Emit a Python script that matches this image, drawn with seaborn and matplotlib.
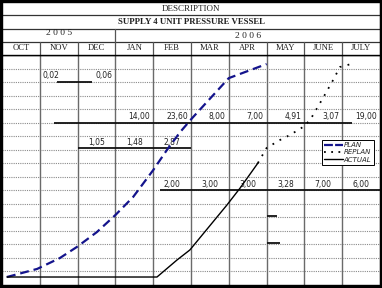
import numpy as np
import pandas as pd
import matplotlib
matplotlib.use('Agg')
import matplotlib.pyplot as plt
from matplotlib.lines import Line2D
from matplotlib.patches import Rectangle
import seaborn as sns

sns.set_theme(style='white')
plt.rcParams['font.family'] = ['DejaVu Sans']

months = ['OCT', 'NOV', 'DEC', 'JAN', 'FEB', 'MAR', 'APR', 'MAY', 'JUNE', 'JULY']
years = ['2 0 0 5', '2 0 0 6']
year_start = [0, 3]
year_end = [3, 10]
title_top = 'DESCRIPTION'
title_sub = 'SUPPLY 4 UNIT PRESSURE VESSEL'

# cumulative progress curves (x in months from start of OCT, y in %)
plan_x = [0.13, 0.93, 1.53, 1.98, 2.51, 3.0, 3.47, 4.0, 4.36, 4.71, 5.03, 6.0, 7.0]
plan_y = [0, 3.8, 8.9, 14.1, 21.1, 29.1, 37.6, 50.2, 59.6, 68.0, 74.6, 93.4, 100]
actual_x = [0.13, 4.1, 4.63, 4.97, 5.95, 6.3, 6.77]
actual_y = [0, 0, 8.0, 12.7, 33.8, 41.8, 53.5]
replan_x = [6.77, 7.0, 7.35, 7.62, 7.96, 8.15, 8.49, 8.76, 8.94, 9.34]
replan_y = [53.5, 60.6, 64.3, 66.7, 70.4, 73.7, 84.0, 92.5, 98.6, 100.5]

# table rows written over the grid
row_a_labels = ['0,02', '0,06']
row_a_cols = [1, 2]
row_b_labels = ['14,00', '23,60', '8,00', '7,00', '4,91', '3,07', '19,00']
row_b_cols = [3, 4, 5, 6, 7, 8, 9]
row_c_labels = ['1,05', '1,48', '2,87']
row_c_cols = [2, 3, 4]
row_d_labels = ['2,00', '3,00', '3,00', '3,28', '7,00', '6,00']
row_d_cols = [4, 5, 6, 7, 8, 9]

# underline segments: (row, x start, x end)
seg_row = [15.0, 12.0, 10.1, 7.0, 5.1, 3.1]
seg_x0 = [1.46, 1.38, 2.0, 4.18, 7.0, 7.0]
seg_x1 = [2.38, 9.26, 5.0, 10.0, 7.27, 7.35]

W, H = 382, 288
fig = plt.figure(figsize=(W / 100, H / 100), dpi=100)
fig.patch.set_facecolor('white')

# grid area
ax = fig.add_axes([2 / W, 3 / H, 378 / W, 230 / H])
ax.set_xlim(0, 10)
ax.set_ylim(0, 17)
ax.set_xticks([])
ax.set_yticks([])
for s in ax.spines.values():
    s.set_color('black')
    s.set_linewidth(1.0)
for r in range(1, 17):
    ax.axhline(r, color='#8a8a8a', lw=0.8, ls=(0, (1, 1)), zorder=1)
for c in range(1, 10):
    ax.axvline(c, color='#6a6a6a', lw=1.0, zorder=1)

numfont = dict(fontsize=5.5, color='#222222', family='DejaVu Sans')
for lab, c in zip(row_a_labels, row_a_cols):
    if c == 1:
        ax.text(c + 0.06, 15.5, lab, ha='left', va='center', **numfont)
    else:
        ax.text(c + 0.92, 15.5, lab, ha='right', va='center', **numfont)
for lab, c in zip(row_b_labels, row_b_cols):
    ax.text(c + 0.92, 12.45, lab, ha='right', va='center', **numfont)
for lab, c in zip(row_c_labels, row_c_cols):
    ax.text(c + 0.5, 10.5, lab, ha='center', va='center', **numfont)
for lab, c in zip(row_d_labels, row_d_cols):
    ax.text(c + 0.5, 7.46, lab, ha='center', va='center', **numfont)

for r, x0, x1 in zip(seg_row, seg_x0, seg_x1):
    ax.plot([x0, x1], [r, r], color='#111111', lw=1.3, zorder=3,
            solid_capstyle='butt')

# curves on a percent scale
ax2 = ax.twinx()
ax2.set_ylim(-3.75, 104.25)
ax2.set_yticks([])
for s in ax2.spines.values():
    s.set_visible(False)

plan_df = pd.DataFrame({'month': plan_x, 'pct': plan_y})
actual_df = pd.DataFrame({'month': actual_x, 'pct': actual_y})
replan_df = pd.DataFrame({'month': replan_x, 'pct': replan_y})

sns.lineplot(data=plan_df, x='month', y='pct', ax=ax2, color='#14148c',
             lw=1.6, linestyle=(0, (4, 2.2)), sort=False, zorder=4)
sns.lineplot(data=actual_df, x='month', y='pct', ax=ax2, color='black',
             lw=1.0, sort=False, zorder=4)
sns.lineplot(data=replan_df, x='month', y='pct', ax=ax2, color='black',
             lw=1.3, linestyle=(0, (1, 3.5)), sort=False, zorder=4)
ax2.set_xlim(0, 10)
ax2.set_xlabel('')
ax2.set_ylabel('')
ax.set_xlabel('')

handles = [
    Line2D([], [], color='#14148c', lw=1.6, linestyle=(0, (4, 1))),
    Line2D([], [], color='black', lw=1.3, linestyle=(0, (1, 3))),
    Line2D([], [], color='black', lw=1.0),
]
leg = ax2.legend(handles, ['PLAN', 'REPLAN', 'ACTUAL'], loc='upper left',
                 bbox_to_anchor=(0.846, 0.632), frameon=True, fancybox=False,
                 edgecolor='black', framealpha=1, borderpad=0.35,
                 labelspacing=0.2, handlelength=2.7, handletextpad=0.1,
                 borderaxespad=0, prop=dict(size=5, style='italic'))
leg.get_frame().set_linewidth(0.7)

# header table
hax = fig.add_axes([2 / W, 233 / H, 378 / W, 53 / H])
hax.set_xlim(0, 10)
hax.set_ylim(0, 4)
hax.set_xticks([])
hax.set_yticks([])
for s in hax.spines.values():
    s.set_color('black')
    s.set_linewidth(1.0)
for r in [1, 2, 3]:
    hax.axhline(r, color='#333333', lw=0.9)
for c in range(1, 10):
    hax.plot([c, c], [0, 1], color='#555555', lw=0.9)
for s0 in year_start[1:]:
    hax.plot([s0, s0], [1, 2], color='#555555', lw=0.9)

hfont = dict(family='Liberation Serif', color='#222222')
for i, m in enumerate(months):
    hax.text(i + 0.5, 0.5, m, ha='center', va='center', fontsize=6.2, **hfont)
for y, s0, s1, dy in zip(years, year_start, year_end, [0.15, -0.05]):
    hax.text((s0 + s1) / 2, 1.5 + dy, y, ha='center', va='center',
             fontsize=6.8, **hfont)
hax.text(5, 2.5, title_sub, ha='center', va='center', fontsize=6.3,
         fontweight='bold', **hfont)
hax.text(5, 3.5, title_top, ha='center', va='center', fontsize=6.5, **hfont)

fig.add_artist(Rectangle((0, 0), 1, 1, transform=fig.transFigure,
                         fill=False, lw=3.0, edgecolor='black'))

fig.savefig('out.png', dpi=100)
